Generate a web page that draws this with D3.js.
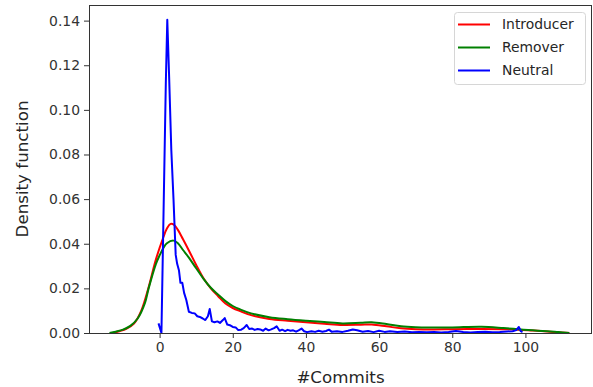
<!DOCTYPE html>
<html>
<head>
<meta charset="utf-8">
<script src="https://cdn.jsdelivr.net/npm/d3@7"></script>
<style>
  body { margin: 0; background: #fff; }
  text { font-family: "DejaVu Sans", sans-serif; }
</style>
</head>
<body>
<div id="chart"></div>
<script>
// values
const introducerX = [-12.8, -11, -9, -7, -5, -3, -1, 1, 2, 3, 4, 5, 6.4, 8, 10, 12, 14, 16, 18, 20, 22, 25, 30, 35, 40, 45, 50, 55, 58, 62, 66, 70, 75, 80, 88, 94, 98, 102, 106, 109, 112];
const introducerY = [0, 0.0008, 0.002, 0.0042, 0.0100, 0.0205, 0.033, 0.0428, 0.0468, 0.0489, 0.0484, 0.0462, 0.0420, 0.0370, 0.0305, 0.0245, 0.0200, 0.0165, 0.0132, 0.0112, 0.0098, 0.0080, 0.0063, 0.0055, 0.0048, 0.0042, 0.0036, 0.0037, 0.0038, 0.0030, 0.0021, 0.0017, 0.0016, 0.0017, 0.0018, 0.0017, 0.0015, 0.0011, 0.0007, 0.0003, 0];

const removerX = [-13.7, -12, -10, -8, -6, -4, -3, -1, 0, 1, 2, 3.8, 5, 6.4, 8, 10, 12, 14, 16, 18, 20, 22, 25, 30, 35, 40, 45, 50, 55, 58, 62, 66, 70, 75, 80, 88, 94, 98, 102, 106, 109, 112];
const removerY = [0, 0.0006, 0.0015, 0.0032, 0.0065, 0.0135, 0.0200, 0.0310, 0.0348, 0.0380, 0.0402, 0.0414, 0.0402, 0.0372, 0.0338, 0.0290, 0.0243, 0.0203, 0.0172, 0.0143, 0.0121, 0.0106, 0.0088, 0.0071, 0.0062, 0.0055, 0.0049, 0.0043, 0.0046, 0.0048, 0.0040, 0.0030, 0.0026, 0.0025, 0.0025, 0.0028, 0.0022, 0.0017, 0.0012, 0.0008, 0.0004, 0];

const neutralX = [-0.3, 0.5, 1.7, 2.1, 2.6, 3.2, 3.8, 4.4, 4.8, 5.3, 5.7, 6.2, 6.7, 7.3, 8.0, 8.8, 9.6, 10.3, 11.0, 11.8, 12.5, 13.2, 13.7, 14.3, 15.0, 15.8, 16.5, 17.3, 17.8, 18.5, 19.2, 20.0, 20.8, 21.5, 22.3, 23.0, 23.8, 24.5, 25.3, 26.0, 26.8, 27.5, 28.3, 29.0, 29.8, 30.5, 31.3, 32.0, 32.8, 33.5, 34.3, 35.0, 35.8, 36.5, 37.3, 38.0, 38.8, 39.5, 40.3, 41.5, 42.5, 43.5, 44.5, 45.5, 46.3, 47.0, 48.5, 50.0, 51.5, 52.8, 54, 55.5, 57, 58.5, 60, 61.5, 63, 65, 67, 69, 71, 73, 75, 77, 79, 81, 83, 85, 87, 89, 91, 93, 95, 96.5, 97.5, 98.2, 98.7, 99.2];
const neutralY = [0.0043, 0, 0.112, 0.1404, 0.115, 0.082, 0.060, 0.035, 0.031, 0.028, 0.0225, 0.0225, 0.018, 0.0148, 0.0095, 0.009, 0.0088, 0.0075, 0.0072, 0.0065, 0.0058, 0.0075, 0.0108, 0.0052, 0.0048, 0.0052, 0.0045, 0.0058, 0.0067, 0.0038, 0.0035, 0.0027, 0.0025, 0.0013, 0.0015, 0.0022, 0.0036, 0.0018, 0.0020, 0.0014, 0.0018, 0.0016, 0.0010, 0.0020, 0.0012, 0.0016, 0.0022, 0.0030, 0.0010, 0.0015, 0.0008, 0.0014, 0.0010, 0.0012, 0.0006, 0.0012, 0.0020, 0.0008, 0.0004, 0.0008, 0.0005, 0.0010, 0.0006, 0.0009, 0.0015, 0.0006, 0.0008, 0.0005, 0.0010, 0.0016, 0.0012, 0.0006, 0.0009, 0.0004, 0.0010, 0.0005, 0.0008, 0.0004, 0.0007, 0.0003, 0.0005, 0.0003, 0.0004, 0.0002, 0.0005, 0.0009, 0.0004, 0.0002, 0.0004, 0.0006, 0.0003, 0.0004, 0.0007, 0.0008, 0.0013, 0.0027, 0.0008, 0.0004];

const xTicks = [0, 20, 40, 60, 80, 100];
const yTicks = [0, 0.02, 0.04, 0.06, 0.08, 0.10, 0.12, 0.14];

const series = [
  { name: 'Introducer', color: 'red', xs: introducerX, ys: introducerY, smooth: true },
  { name: 'Remover', color: 'green', xs: removerX, ys: removerY, smooth: true },
  { name: 'Neutral', color: 'blue', xs: neutralX, ys: neutralY, smooth: false }
];

const width = 593, height = 387;
const margin = { top: 5, right: 1, bottom: 54, left: 89 };

const svg = d3.select('#chart').append('svg')
  .attr('width', width)
  .attr('height', height);

const x = d3.scaleLinear().domain([-19.3, 118.2]).range([margin.left, width - margin.right]);
const y = d3.scaleLinear().domain([0, 0.147]).range([height - margin.bottom, margin.top]);

// lines
series.forEach(s => {
  const pts = s.xs.map((v, i) => [v, s.ys[i]]);
  const line = d3.line()
    .x(d => x(d[0]))
    .y(d => y(d[1]))
    .curve(s.smooth ? d3.curveCatmullRom.alpha(0.5) : d3.curveLinear);
  svg.append('path')
    .datum(pts)
    .attr('fill', 'none')
    .attr('stroke', s.color)
    .attr('stroke-width', 2)
    .attr('stroke-linejoin', 'round')
    .attr('d', line);
});

// axes
const xAxis = svg.append('g')
  .attr('transform', `translate(0,${height - margin.bottom})`)
  .call(d3.axisBottom(x).tickValues(xTicks).tickSize(5).tickPadding(4).tickFormat(d3.format('d')));
const yAxis = svg.append('g')
  .attr('transform', `translate(${margin.left},0)`)
  .call(d3.axisLeft(y).tickValues(yTicks).tickSize(5).tickPadding(4).tickFormat(d3.format('.2f')));

[xAxis, yAxis].forEach(a => {
  a.select('.domain').remove();
  a.selectAll('.tick line').attr('stroke', '#333');
  a.selectAll('.tick text')
    .attr('fill', '#333')
    .style('font-family', '"DejaVu Sans", sans-serif')
    .style('font-size', '13.9px');
});

// frame
svg.append('rect')
  .attr('x', margin.left + 0.5)
  .attr('y', margin.top + 0.5)
  .attr('width', width - margin.left - margin.right - 1)
  .attr('height', height - margin.top - margin.bottom)
  .attr('fill', 'none')
  .attr('stroke', '#333')
  .attr('stroke-width', 1);

// axis labels
svg.append('text')
  .attr('x', (margin.left + width - margin.right) / 2)
  .attr('y', 383)
  .attr('text-anchor', 'middle')
  .attr('fill', '#262626')
  .style('font-size', '16.7px')
  .text('#Commits');

svg.append('text')
  .attr('transform', `translate(28,${(margin.top + height - margin.bottom) / 2}) rotate(-90)`)
  .attr('text-anchor', 'middle')
  .attr('fill', '#262626')
  .style('font-size', '16.7px')
  .text('Density function');

// legend
const legend = svg.append('g').attr('transform', 'translate(454,12)');
legend.append('rect')
  .attr('x', 0.5).attr('y', 0.5)
  .attr('width', 131).attr('height', 72)
  .attr('rx', 3)
  .attr('fill', '#fff')
  .attr('fill-opacity', 0.8)
  .attr('stroke', '#d6d6d6');

series.forEach((s, i) => {
  const yy = 12.5 + i * 23;
  legend.append('line')
    .attr('x1', 4).attr('x2', 36)
    .attr('y1', yy).attr('y2', yy)
    .attr('stroke', s.color)
    .attr('stroke-width', 2);
  legend.append('text')
    .attr('x', 48).attr('y', yy)
    .attr('dy', '0.35em')
    .attr('fill', '#262626')
    .style('font-size', '13.9px')
    .text(s.name);
});
</script>
</body>
</html>
